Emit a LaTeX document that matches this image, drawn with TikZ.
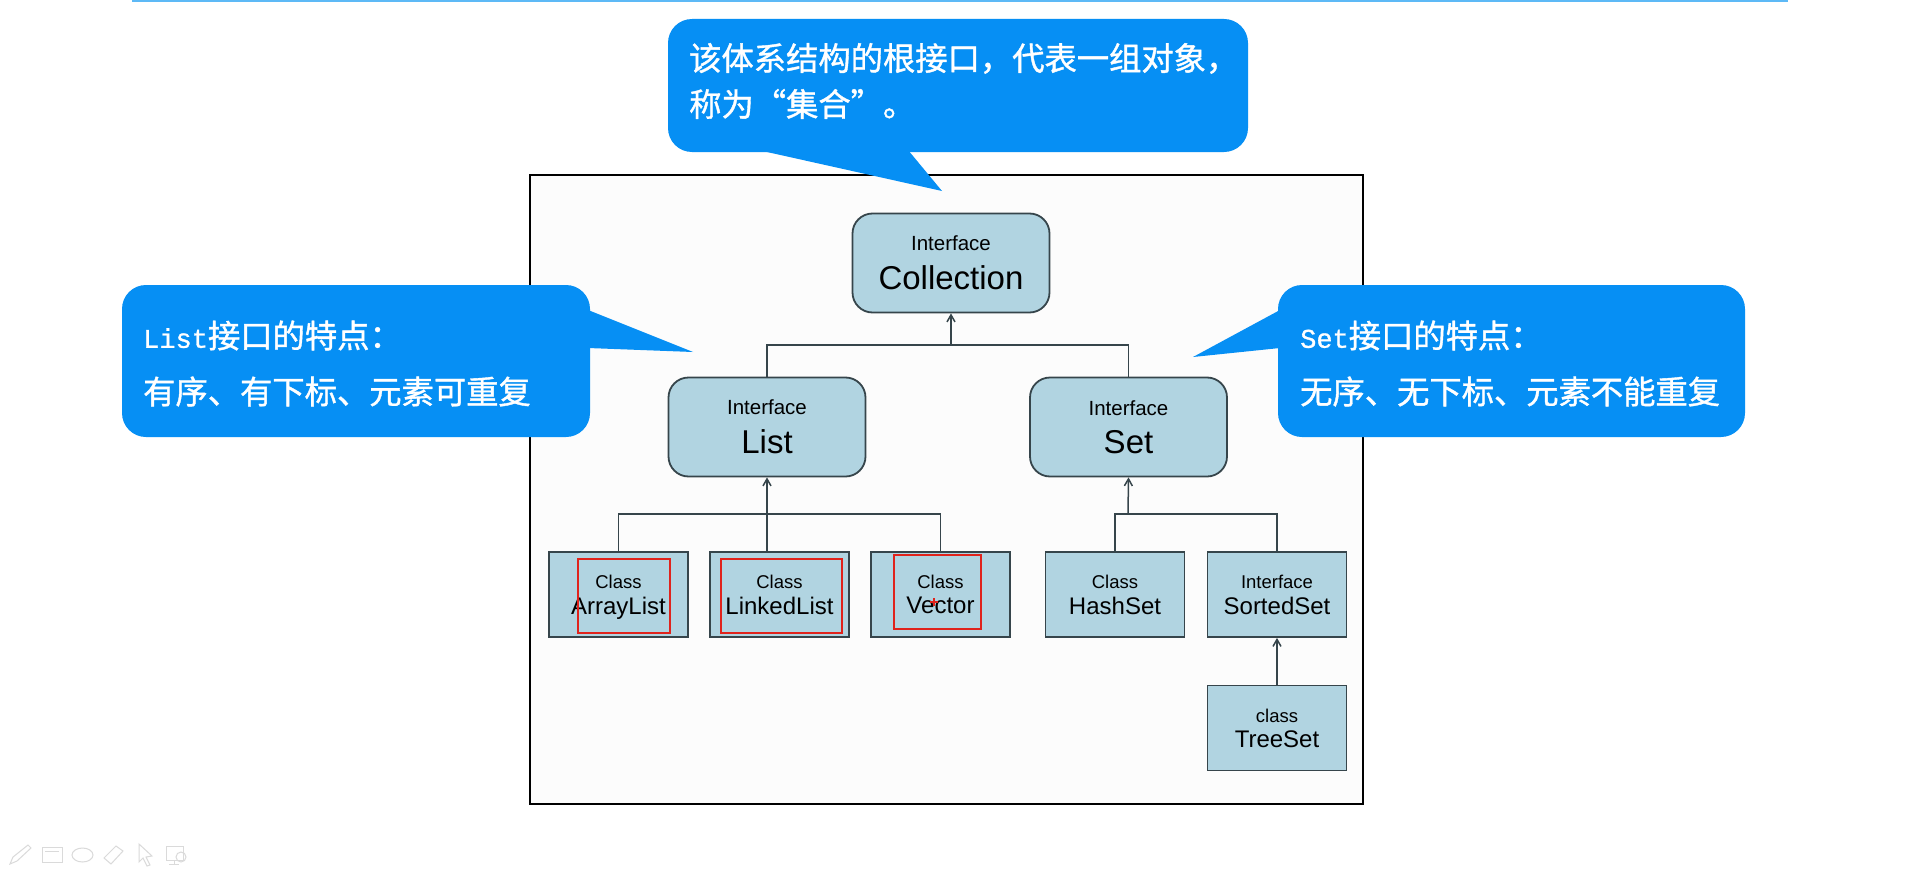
\documentclass[tikz,border=0pt]{standalone}
\usepackage{fontspec}
\usepackage{xcolor}
\usetikzlibrary{arrows.meta,positioning,calc}
\setmainfont{Liberation Sans}
\newfontfamily\cjk[FakeBold=1.2]{Noto Sans CJK SC}
\newfontfamily\latn[FakeBold=1.0]{Liberation Mono}
\definecolor{Bub}{HTML}{068FF4}
\definecolor{Top}{HTML}{5DB9F6}
\definecolor{Tile}{HTML}{B1D4E1}
\definecolor{Edge}{HTML}{36454B}
\definecolor{Mark}{HTML}{E0231C}
\definecolor{Icon}{HTML}{DADADA}
\newcommand{\ifacelabel}[2]{{\fontsize{20.5}{24}\selectfont #1}\\[14pt]{\fontsize{33}{36}\selectfont #2}}
\newcommand{\classlabel}[2]{\rule{0pt}{18.5pt}{\fontsize{18.5}{22}\selectfont #1}\\[7pt]{\fontsize{24}{27}\selectfont #2\vphantom{y}}}
\newcommand{\latnword}[1]{{\latn\fontsize{27}{46}\selectfont #1}}
\tikzset{
  ifacebox/.style={draw=Edge,line width=1.8pt,fill=Tile,rounded corners=20pt,align=center,inner sep=0pt,minimum width=197pt,minimum height=99pt},
  classbox/.style={draw=Edge,line width=1.8pt,fill=Tile,align=center,inner sep=0pt,minimum width=139pt,minimum height=85pt},
  linkline/.style={draw=Edge,line width=1.5pt},
  linkarrow/.style={linkline,-{Straight Barb[length=7pt,width=8pt]}},
  bubble/.style={fill=Bub,rounded corners=24pt,inner sep=0pt},
  notetext/.style={text=white,align=left,inner sep=0pt,anchor=west,font=\cjk\fontsize{32.3}{46}\selectfont},
  redbox/.style={draw=Mark,line width=1.5pt},
  toolicon/.style={draw=Icon,line width=1pt}
}
\begin{document}
\begin{tikzpicture}[x=1pt,y=-1pt]
\useasboundingbox (0,0) rectangle (1919,875);
\fill[white] (0,0) rectangle (1919,875);
\fill[Top] (132,0) rectangle (1788,2);
\draw[black,line width=2pt,fill=black!1] (530,175) rectangle (1363,804);

\node[ifacebox] (collection) at (951,263) {\ifacelabel{Interface}{Collection}};
\node[ifacebox] (list) at (767,427) {\ifacelabel{Interface}{List}};
\node[ifacebox] (set) at (1128.5,427) {\ifacelabel{Interface}{Set}};
\node[classbox] (arraylist) at (618.5,594.5) {\classlabel{Class}{ArrayList}};
\node[classbox] (linkedlist) at (779.5,594.5) {\classlabel{Class}{LinkedList}};
\node[classbox] (vector) at (940.5,594.5) {\classlabel{Class}{Vector}};
\node[classbox] (hashset) at (1115,594.5) {\classlabel{Class}{HashSet}};
\node[classbox] (sortedset) at (1277,594.5) {\classlabel{Interface}{SortedSet}};
\node[classbox] (treeset) at (1277,728) {\classlabel{class}{TreeSet}};

\coordinate (topbus) at (951,345);
\coordinate (listbus) at (767,514);
\coordinate (setbus) at (1128,514);
\draw[linkline] (list.north) |- (topbus) -| (set.north);
\draw[linkarrow] (topbus) -- (collection.south);
\draw[linkline] (arraylist.north) |- (listbus) -| (vector.north);
\draw[linkarrow] (list.south |- linkedlist.north) -- (list.south);
\draw[linkline] (hashset.north) |- (setbus) -| (sortedset.north);
\draw[linkarrow] (setbus) -- (set.south);
\draw[linkarrow] (treeset.north) -- (sortedset.south);

\draw[redbox] (578,559) rectangle (670,633);
\draw[redbox] (721,559) rectangle (842,633);
\draw[redbox] (894,555) rectangle (981,629);
\draw[Mark,line width=1.5pt] (930,602)--(938,602) (934,598)--(934,606);

% callouts
\fill[Bub] (758,150)--(942,191)--(908,150)--cycle;
\node[bubble,minimum width=580pt,minimum height=133pt] (rootnote) at (958,85.5) {};
\node[notetext] (roottext) at (689,81) {该体系结构的根接口，代表一组对象，\\称为“集合”。};
\fill[Bub] (588,310)--(693,352)--(588,348)--cycle;
\node[bubble,minimum width=468pt,minimum height=152pt] (listnote) at (356,361) {};
\node[notetext] (listtext) at (143,363.5) {\latnword{List}接口的特点：\\[10pt]有序、有下标、元素可重复};
\fill[Bub] (1280,310)--(1193,357)--(1280,348)--cycle;
\node[bubble,minimum width=467pt,minimum height=152pt] (setnote) at (1511.5,361) {};
\node[notetext] (settext) at (1300,363.5) {\latnword{Set}接口的特点：\\[10pt]无序、无下标、元素不能重复};

% toolbar
\draw[toolicon] (10,864)--(13,857)--(28,845)--(31,848)--(17,861)--cycle;
\draw[toolicon] (42,847) rectangle (62,862) (45,851)--(59,851);
\draw[toolicon] (82.5,855) ellipse (10.5 and 7);
\draw[toolicon] (104,858)--(116,846)--(123,851)--(111,864)--cycle;
\draw[toolicon] (139,844)--(139,862)--(143,858)--(147,866)--(150,865)--(146,857)--(152,856)--cycle;
\draw[toolicon] (166,846) rectangle (183,860) (174,860)--(174,864) (169,864)--(179,864);
\draw[toolicon] (181,857) circle (5);
\end{tikzpicture}
\end{document}
